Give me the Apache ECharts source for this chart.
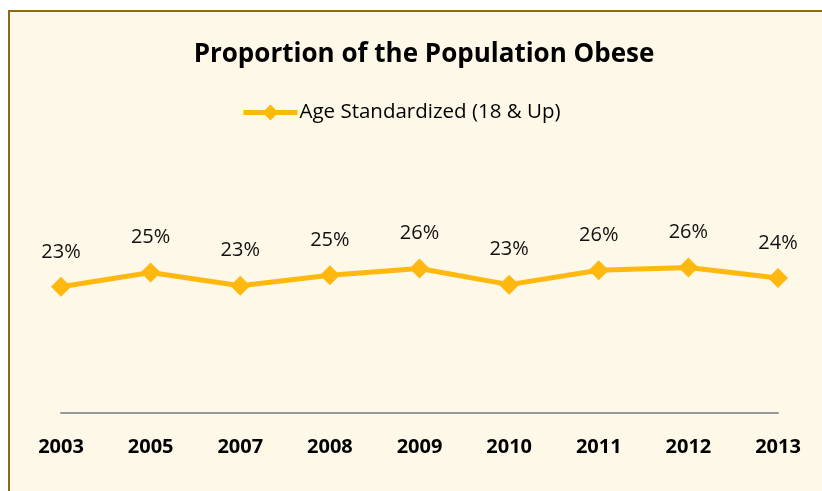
<!DOCTYPE html>
<html><head><meta charset="utf-8">
<script src="https://cdn.jsdelivr.net/npm/echarts@6/dist/echarts.min.js"></script>
<style>html,body{margin:0;padding:0;background:#fff;}#box{position:absolute;left:8px;top:10px;width:830px;height:500px;background:#FEF8E8;border-left:2px solid #8C6A0E;border-top:2px solid #8C6A0E;box-sizing:border-box;}#c{position:absolute;left:0;top:0;width:822px;height:491px;}</style>
</head><body><div id="box"></div><div id="c"></div>
<script>
const years = ['2003','2005','2007','2008','2009','2010','2011','2012','2013'];
const obese = [22.8, 25.4, 23.0, 24.9, 26.1, 23.2, 25.8, 26.3, 24.4];
const seriesName = 'Age Standardized (18 & Up)';
const chart = echarts.init(document.getElementById('c'));
chart.setOption({
  backgroundColor: 'transparent',
  title: {text: 'Proportion of the Population Obese', left: 419, textAlign: 'center', top: 37,
    textStyle: {fontFamily: 'Open Sans', fontWeight: 'bold', fontSize: 26, color: '#000'}},
  legend: {data: [seriesName], left: 236, top: 97, itemWidth: 54, itemHeight: 20, itemGap: 4,
    lineStyle: {width: 5}, itemStyle: {color: '#FFB810'},
    textStyle: {fontFamily: 'Open Sans', fontSize: 20.5, color: '#000', padding: [0,0,0,-3]}},
  grid: {left: 61, right: 44, top: 164, bottom: 78},
  xAxis: {type: 'category', data: years, boundaryGap: false,
    axisLine: {lineStyle: {color: '#999', width: 2}}, axisTick: {show: false},
    axisLabel: {fontFamily: 'Open Sans', fontWeight: 'bold', fontSize: 20, color: '#000', margin: 24}},
  yAxis: {type: 'value', min: 0, max: 45, show: false, splitLine: {show: false}},
  series: [{name: seriesName, type: 'line', data: obese, symbol: 'diamond', symbolSize: 20,
    lineStyle: {color: '#FFB810', width: 5}, itemStyle: {color: '#FFB810'},
    label: {show: true, position: 'top', distance: 15, fontFamily: 'Open Sans', fontSize: 20, color: '#111',
      formatter: p => Math.round(p.value) + '%'}}]
});
</script></body></html>
